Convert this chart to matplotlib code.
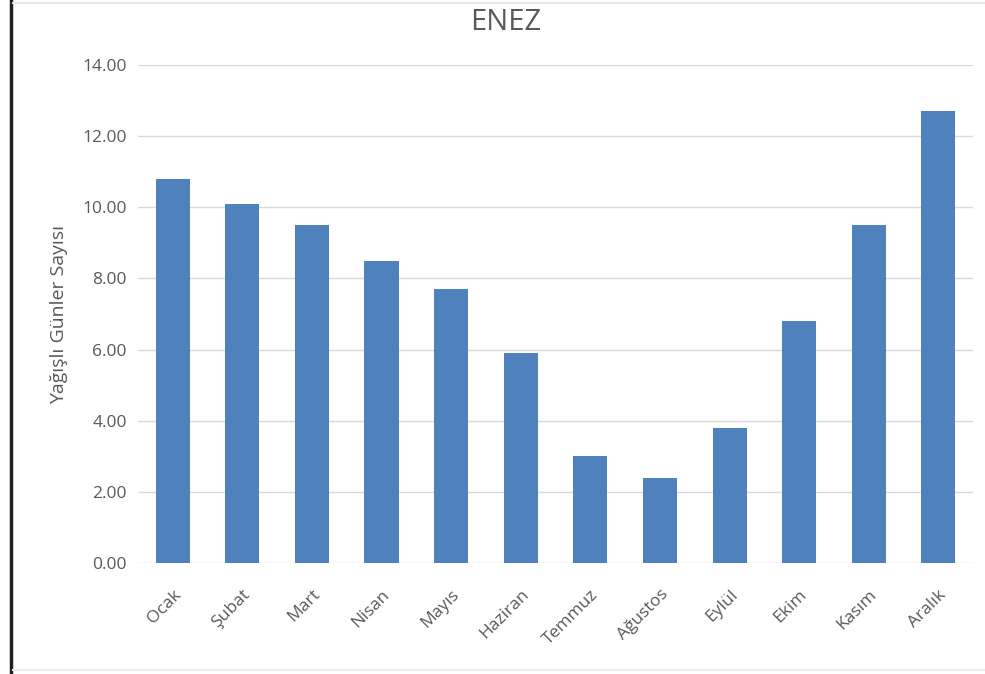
import matplotlib.pyplot as plt
from matplotlib.lines import Line2D
import numpy as np

months = ["Ocak", "Şubat", "Mart", "Nisan", "Mayıs", "Haziran",
          "Temmuz", "Ağustos", "Eylül", "Ekim", "Kasım", "Aralık"]
rainy_days = [10.8, 10.1, 9.5, 8.5, 7.7, 5.9, 3.0, 2.4, 3.8, 6.8, 9.5, 12.7]
y_ticks = [0, 2, 4, 6, 8, 10, 12, 14]

plt.rcParams['font.family'] = ['Open Sans', 'DejaVu Sans']
txt = '#595959'

fig = plt.figure(figsize=(9.85, 6.74), dpi=100)
ax = fig.add_axes([0.140, 0.1647, 0.848, 0.7389])

x = np.arange(len(months))
ax.bar(x, rainy_days, width=0.49, color='#4F81BD', zorder=3)

ax.set_xlim(-0.5, len(months) - 0.5)
ax.set_ylim(0, 14)
ax.set_yticks(y_ticks)
ax.set_yticklabels(["%.2f" % v for v in y_ticks], color=txt, fontsize=12.5)
ax.set_xticks(x)
ax.set_xticklabels(months, rotation=45, ha='right', rotation_mode='anchor',
                   color=txt, fontsize=12.5)
ax.tick_params(length=0)
ax.tick_params(axis='y', pad=8)
ax.tick_params(axis='x', pad=17)
ax.grid(axis='y', color='#D9D9D9', linewidth=1, zorder=0)
for s in ax.spines.values():
	s.set_visible(False)

ax.set_ylabel("Yağışlı Günler Sayısı", color=txt, fontsize=14, labelpad=10)
fig.text(0.513, 0.966, "ENEZ", ha='center', va='center', color=txt, fontsize=21)

# frame pieces from the screenshot
fig.add_artist(Line2D([0.011, 0.011], [0, 1], color='#202020', linewidth=2.5))
fig.add_artist(Line2D([0.013, 1], [0.996, 0.996], color='#E6E6E6', linewidth=1.5))
fig.add_artist(Line2D([0.013, 1], [0.006, 0.006], color='#EDEDED', linewidth=1.5))

fig.savefig("out.png", dpi=100)
